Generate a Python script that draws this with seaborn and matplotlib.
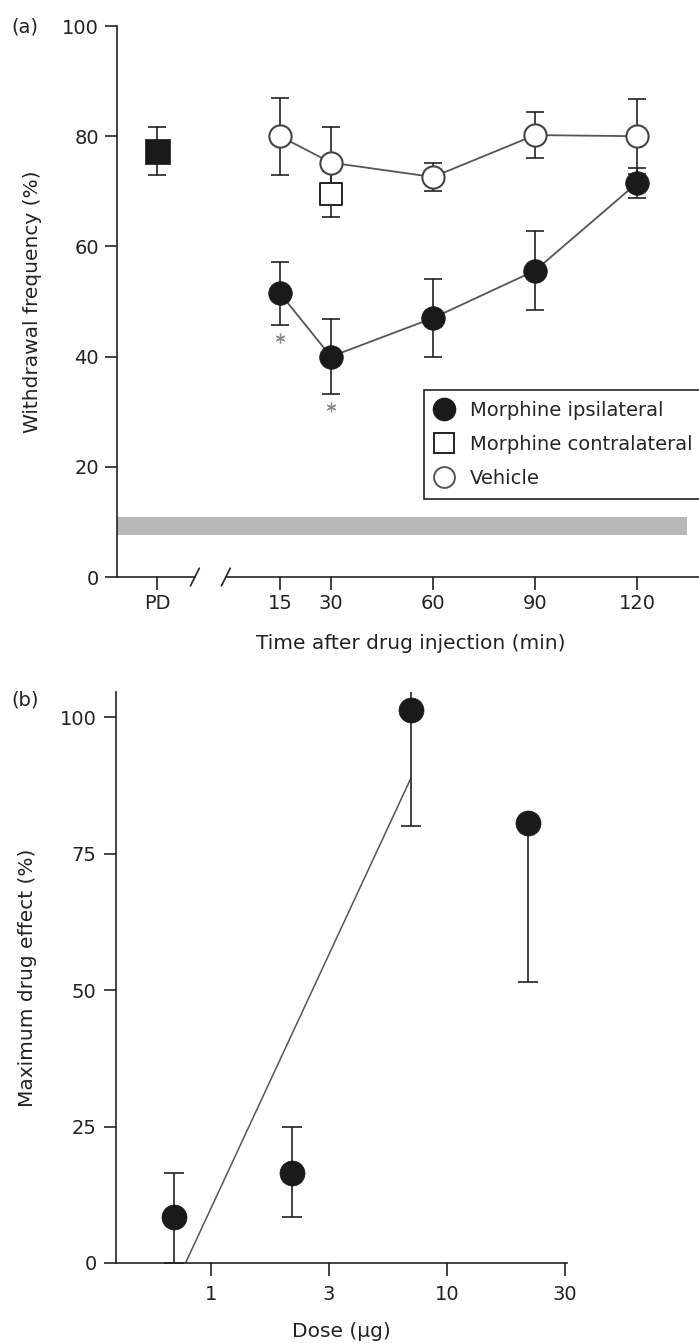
import numpy as np
import matplotlib
matplotlib.use("Agg")
import matplotlib.pyplot as plt
import seaborn as sns
from matplotlib.lines import Line2D
from matplotlib.ticker import NullLocator

# ---------------- Panel (a) data ----------------
times = [15, 30, 60, 90, 120]
ipsi_mean = [51.5, 40.0, 47.0, 55.6, 71.5]
ipsi_err = [5.7, 6.8, 7.0, 7.2, 2.7]
vehicle_mean = [80.0, 75.2, 72.6, 80.2, 80.0]
vehicle_err = [7.0, 6.4, 2.5, 4.2, 6.8]
contra_time = [30]
contra_mean = [69.5]
contra_err = [4.2]
pd_pos = [-21]
pd_mean = [77.3]
pd_err = [4.4]
sig_times = [15, 30]
baseline_band = [7.6, 10.9]
band_end = 134.7
xtick_labels_a = ["PD", "15", "30", "60", "90", "120"]
series_labels = ["Morphine ipsilateral", "Morphine contralateral", "Vehicle"]

# ---------------- Panel (b) data ----------------
doses = [0.7, 2.2, 7.0, 22.0]
effect_mean = [8.4, 16.5, 101.3, 80.6]
effect_err_low = [8.4, 8.1, 21.3, 29.1]
effect_err_high = [8.1, 8.4, 21.3, 0.0]
dose_ticks = [1, 10 ** 0.5, 10, 10 ** 1.5]
dose_tick_labels = ["1", "3", "10", "30"]
effect_ticks = [0, 25, 50, 75, 100]

sns.set_theme(style="ticks")
plt.rcParams["font.family"] = ["DejaVu Sans"]
plt.rcParams["axes.linewidth"] = 1.2

DARK = "#222222"
LINE = "#555555"
W, H = 699, 1343

fig = plt.figure(figsize=(W / 100, H / 100), dpi=100)

# ================= Panel (a) =================
axa = fig.add_axes([117 / W, 1 - 577 / H, (W - 117) / W, (577 - 26) / H])
xl0, xl1 = -32.9, 138.2
axa.set_xlim(xl0, xl1)
axa.set_ylim(0, 100)

# baseline band
axa.fill_between([xl0, band_end], baseline_band[0], baseline_band[1],
                 color="#b9b9b9", lw=0, zorder=0)

# connecting lines
sns.lineplot(x=times, y=ipsi_mean, color=LINE, lw=1.3, ax=axa, zorder=1)
sns.lineplot(x=times, y=vehicle_mean, color=LINE, lw=1.3, ax=axa, zorder=1)

# error bars
eb_kw = dict(fmt="none", ecolor=DARK, elinewidth=1.2, capsize=6.5, capthick=1.2, zorder=2)
axa.errorbar(times, vehicle_mean, yerr=vehicle_err, **eb_kw)
axa.errorbar(times, ipsi_mean, yerr=ipsi_err, **eb_kw)
axa.errorbar(contra_time, contra_mean, yerr=contra_err, **eb_kw)
axa.errorbar(pd_pos, pd_mean, yerr=pd_err, **eb_kw)

# markers
sns.scatterplot(x=times, y=vehicle_mean, marker="o", s=16 ** 2, color="white",
                edgecolor="#444444", linewidth=1.5, ax=axa, zorder=3)
sns.scatterplot(x=times, y=ipsi_mean, marker="o", s=17 ** 2, color="#1a1a1a",
                edgecolor="#1a1a1a", linewidth=0.5, ax=axa, zorder=3)
sns.scatterplot(x=contra_time, y=contra_mean, marker="s", s=15.5 ** 2, color="white",
                edgecolor=DARK, linewidth=1.4, ax=axa, zorder=4)
sns.scatterplot(x=pd_pos, y=pd_mean, marker="s", s=18 ** 2, color="#1a1a1a",
                edgecolor="#1a1a1a", linewidth=0.5, ax=axa, zorder=4)

# significance asterisks
sig_y = [ipsi_mean[times.index(t)] - ipsi_err[times.index(t)] - 2.4 for t in sig_times]
axa.plot(sig_times, sig_y, ls="none", marker=(6, 2, 0), ms=7, mew=0.9, color="#888888")

# spines / broken x axis
for s in ["top", "right", "bottom"]:
    axa.spines[s].set_visible(False)
axa.spines["left"].set_color(DARK)
breaks = [-10.0, -0.9]
axa.plot([xl0, breaks[0]], [0, 0], color=DARK, lw=1.2, clip_on=False, zorder=5)
axa.plot([breaks[1], xl1], [0, 0], color=DARK, lw=1.2, clip_on=False, zorder=5)
for xb in breaks:
    axa.plot([xb - 1.3, xb + 1.3], [-1.6, 1.6], color=DARK, lw=1.2, clip_on=False, zorder=5)

axa.set_xticks(pd_pos + times)
axa.set_xticklabels(xtick_labels_a)
axa.set_yticks([0, 20, 40, 60, 80, 100])
axa.tick_params(axis="x", direction="out", length=9, width=1.2, colors=DARK, labelsize=14, pad=3)
axa.tick_params(axis="y", direction="out", length=9, width=1.2, colors=DARK, labelsize=14, pad=4)

axa.set_xlabel("Time after drug injection (min)", fontsize=14.5, color=DARK)
axa.xaxis.set_label_coords(0.505, -0.104)
axa.set_ylabel("Withdrawal frequency (%)", fontsize=14.5, color=DARK)
axa.yaxis.set_label_coords(-0.129, 0.5)

handles = [
    Line2D([], [], ls="none", marker="o", ms=16, mfc="#1a1a1a", mec="#1a1a1a"),
    Line2D([], [], ls="none", marker="s", ms=15, mfc="white", mec=DARK, mew=1.4),
    Line2D([], [], ls="none", marker="o", ms=15, mfc="white", mec="#555555", mew=1.4),
]
leg = axa.legend(handles, series_labels, loc="upper left", bbox_to_anchor=(0.5275, 0.339),
                 frameon=True, fancybox=False, edgecolor=DARK, framealpha=1,
                 fontsize=14, borderpad=0.55, labelspacing=0.78, handlelength=1.0,
                 handletextpad=0.8, borderaxespad=0)
leg.get_frame().set_linewidth(1.2)

fig.text(25 / W, 1 - 27 / H, "(a)", ha="center", va="center", fontsize=14, color=DARK)

# ================= Panel (b) =================
axb = fig.add_axes([116 / W, 1 - 1263 / H, (567 - 116) / W, (1263 - 692) / H])
axb.set_xscale("log")
axb.set_xlim(10 ** -0.4025, 10 ** 1.508)
axb.set_ylim(0, 104.6)

# regression line over the first three doses
logd = np.log10(doses[:3])
slope, icpt = np.polyfit(logd, effect_mean[:3], 1)
x_start = 10 ** (-icpt / slope)
xs = np.logspace(np.log10(x_start), np.log10(doses[2]), 50)
sns.lineplot(x=xs, y=icpt + slope * np.log10(xs), color=LINE, lw=1.1, ax=axb, zorder=1)

axb.errorbar(doses, effect_mean, yerr=[effect_err_low, effect_err_high], fmt="none",
             ecolor=DARK, elinewidth=1.2, capsize=7.5, capthick=1.2, zorder=2)
sns.scatterplot(x=doses, y=effect_mean, marker="o", s=18 ** 2, color="#1a1a1a",
                edgecolor="#1a1a1a", linewidth=0.5, ax=axb, zorder=3)

for s in ["top", "right"]:
    axb.spines[s].set_visible(False)
for s in ["left", "bottom"]:
    axb.spines[s].set_color(DARK)
    axb.spines[s].set_zorder(6)
axb.set_xticks(dose_ticks)
axb.set_xticklabels(dose_tick_labels)
axb.xaxis.set_minor_locator(NullLocator())
axb.set_yticks(effect_ticks)
axb.tick_params(axis="x", direction="out", length=9, width=1.2, colors=DARK, labelsize=14, pad=7)
axb.tick_params(axis="y", direction="out", length=9, width=1.2, colors=DARK, labelsize=14, pad=5)

axb.set_xlabel("Dose (\u00b5g)", fontsize=14.5, color=DARK)
axb.xaxis.set_label_coords(0.499, -0.103)
axb.set_ylabel("Maximum drug effect (%)", fontsize=14.5, color=DARK)
axb.yaxis.set_label_coords(-0.175, 0.5)

fig.text(25 / W, 1 - 700 / H, "(b)", ha="center", va="center", fontsize=14, color=DARK)

fig.savefig("out.png", dpi=100)
